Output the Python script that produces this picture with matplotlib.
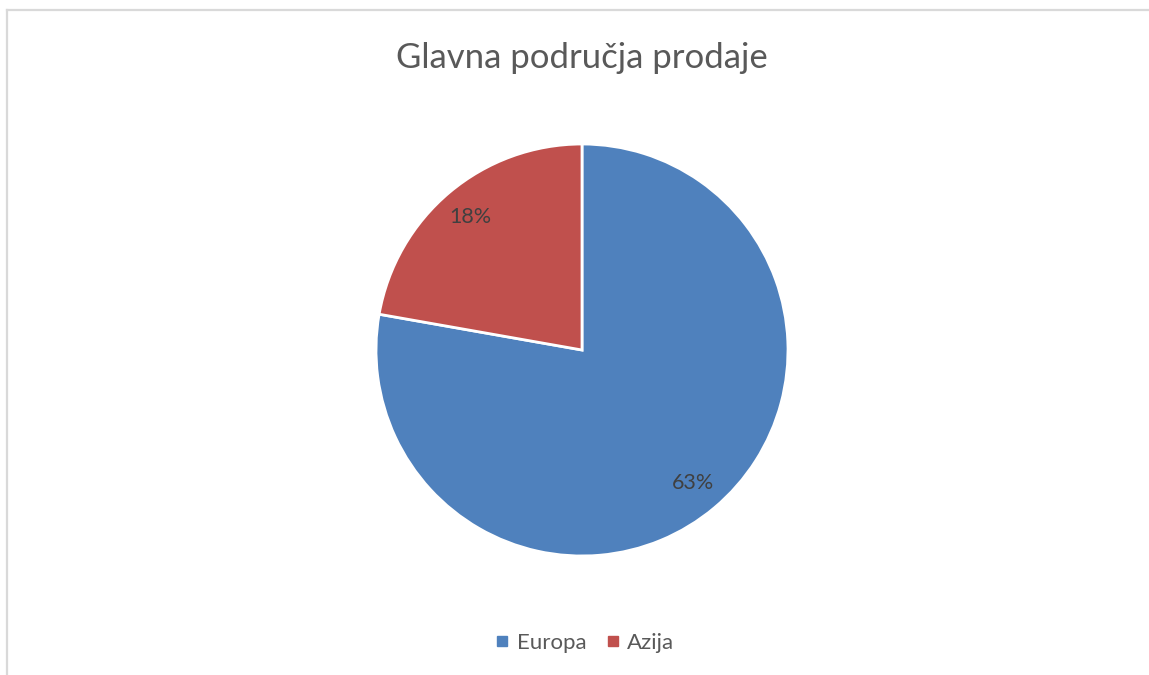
import matplotlib
matplotlib.use("Agg")
import matplotlib.pyplot as plt
from matplotlib.lines import Line2D

regije = ["Europa", "Azija"]
vrijednosti = [63, 18]
oznake = ["63%", "18%"]
boje = ["#4F81BD", "#C0504D"]

plt.rcParams['font.family'] = ['Lato', 'DejaVu Sans']

W, H = 1149, 675
fig = plt.figure(figsize=(W / 100, H / 100), dpi=100)
fig.patch.set_facecolor("white")

# okvir grafikona (samo gornji i lijevi rub su vidljivi)
fig.add_artist(Line2D([6.5 / W, 6.5 / W], [0, 1 - 9.5 / H], transform=fig.transFigure,
                      color="#d9d9d9", linewidth=1.6))
fig.add_artist(Line2D([6.5 / W, 1], [1 - 9.5 / H, 1 - 9.5 / H], transform=fig.transFigure,
                      color="#d9d9d9", linewidth=1.6))

cx, cy, r = 582, 350, 206
ax = fig.add_axes([(cx - r) / W, (H - cy - r) / H, 2 * r / W, 2 * r / H])
wedges, texts = ax.pie(vrijednosti, colors=boje, startangle=90, counterclock=False,
                       labels=oznake, labeldistance=0.84,
                       wedgeprops=dict(edgecolor="white", linewidth=2),
                       textprops=dict(color="#404040", fontsize=15.5, ha="center", va="center"))
ax.set_xlim(-1, 1)
ax.set_ylim(-1, 1)
ax.set_aspect("equal")
ax.axis("off")

fig.text(cx / W, 1 - 58 / H, "Glavna područja prodaje", ha="center", va="center",
         fontsize=25, color="#595959")

handles = [Line2D([], [], marker="s", linestyle="none", markersize=7,
                  markerfacecolor=c, markeredgecolor=c) for c in boje]
fig.legend(handles, regije, loc="center", bbox_to_anchor=(585 / W, 1 - 643 / H), ncol=2,
           frameon=False, fontsize=16, labelcolor="#595959", handlelength=0.6,
           handletextpad=0.35, columnspacing=0.9)

fig.savefig("out.png", dpi=100)
